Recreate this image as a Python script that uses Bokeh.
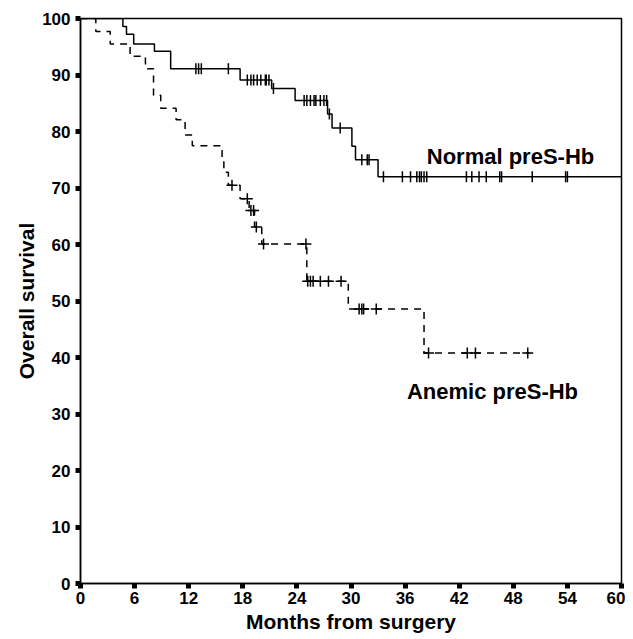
import numpy as np
from bokeh.plotting import figure
from bokeh.models import Range1d, FixedTicker, ColumnDataSource
from bokeh.core.properties import value
from bokeh.embed import file_html
from bokeh.resources import INLINE

# ---- data ----
normal_time = [0, 4.7, 5.1, 5.9, 8.2, 10.0, 17.7, 21.2, 23.8, 27.4, 27.9, 30.1, 30.5, 33.0, 60.0]
normal_surv = [100, 98.6, 97.2, 95.5, 94.2, 91.1, 89.1, 87.6, 85.5, 83.1, 80.6, 77.4, 75.0, 72.0, 72.0]
normal_censor = [12.8, 13.1, 13.4, 16.4, 18.5, 18.9, 19.2, 19.6, 20.0, 20.5, 20.6, 20.9, 21.4,
                 24.8, 25.1, 25.5, 25.9, 26.1, 26.6, 27.0, 27.3, 27.6, 28.8, 31.2, 31.8, 32.0,
                 33.6, 35.7, 36.6, 37.3, 37.6, 37.8, 38.1, 38.4, 42.8, 43.4, 44.2, 45.0,
                 46.5, 46.7, 50.1, 53.8, 54.0]

anemic_time = [0, 1.7, 3.3, 5.5, 7.2, 8.1, 8.9, 10.6, 11.6, 12.4, 15.7, 15.9, 16.4, 17.7,
               18.7, 19.3, 20.1, 25.1, 29.7, 38.1, 49.8]
anemic_surv = [100, 97.7, 95.5, 93.3, 91.1, 86.4, 84.1, 82.1, 79.4, 77.5, 75.2, 72.8, 70.5,
               68.1, 66.0, 63.1, 60.1, 53.5, 48.6, 40.8, 40.8]
anemic_censor = [16.8, 18.5, 18.9, 19.2, 19.5, 20.3, 25.0, 25.2, 25.5, 25.8, 26.6, 27.5, 28.9,
                 30.9, 31.2, 31.4, 32.8, 38.6, 42.9, 43.8, 49.6]

x_ticks = [0, 6, 12, 18, 24, 30, 36, 42, 48, 54, 60]
y_ticks = [0, 10, 20, 30, 40, 50, 60, 70, 80, 90, 100]

labels = ["Normal preS-Hb", "Anemic preS-Hb"]
label_x = [38.4, 36.2]
label_y = [75.6, 33.9]


def level_at(times, surv, t):
    idx = np.searchsorted(np.array(times), np.array(t), side="right") - 1
    return list(np.array(surv)[idx])


FONT = "Liberation Sans"

p = figure(width=625, height=639, output_backend="svg", toolbar_location=None,
           x_range=Range1d(0, 60), y_range=Range1d(0, 100),
           min_border_left=80, min_border_top=18, min_border_right=4, min_border_bottom=56)

p.grid.visible = False
p.outline_line_color = "black"
p.outline_line_width = 1.5
p.background_fill_color = "white"
p.border_fill_color = "white"

for ax in (p.xaxis[0], p.yaxis[0]):
    ax.axis_line_color = "black"
    ax.axis_line_width = 1.5
    ax.major_tick_in = 0
    ax.major_tick_out = 5
    ax.major_tick_line_width = 5
    ax.major_tick_line_color = "black"
    ax.minor_tick_line_color = None
    ax.major_label_text_font = FONT
    ax.major_label_text_font_style = "bold"
    ax.major_label_text_font_size = "17px"
    ax.major_label_text_color = "black"
    ax.axis_label_text_font = FONT
    ax.axis_label_text_font_style = "bold"
    ax.axis_label_text_font_size = "21px"
    ax.axis_label_text_color = "black"

p.xaxis.ticker = FixedTicker(ticks=x_ticks)
p.yaxis.ticker = FixedTicker(ticks=y_ticks)
p.xaxis.axis_label = "Months from surgery"
p.yaxis.axis_label = "Overall survival"
p.xaxis.major_label_standoff = 3
p.yaxis.major_label_standoff = 5
p.xaxis.axis_label_standoff = 3
p.yaxis.axis_label_standoff = 1

# curves
p.step(normal_time, normal_surv, mode="after", line_color="black", line_width=1.5)
p.step(anemic_time, anemic_surv, mode="after", line_color="black", line_width=1.5,
       line_dash="7 6")

# censor marks
p.scatter(normal_censor, level_at(normal_time, normal_surv, normal_censor), marker="dash",
          angle=np.pi / 2, size=11, line_color="black", line_width=1.5)
p.scatter(anemic_censor, level_at(anemic_time, anemic_surv, anemic_censor), marker="cross",
          size=11, line_color="black", line_width=1.5)

src = ColumnDataSource(dict(x=label_x, y=label_y, t=labels))
p.text("x", "y", text="t", source=src, text_font=value(FONT), text_font_style="bold",
       text_font_size="22px", text_baseline="alphabetic", text_align="left", text_color="black")

open("out.html", "w").write(file_html(p, INLINE))
